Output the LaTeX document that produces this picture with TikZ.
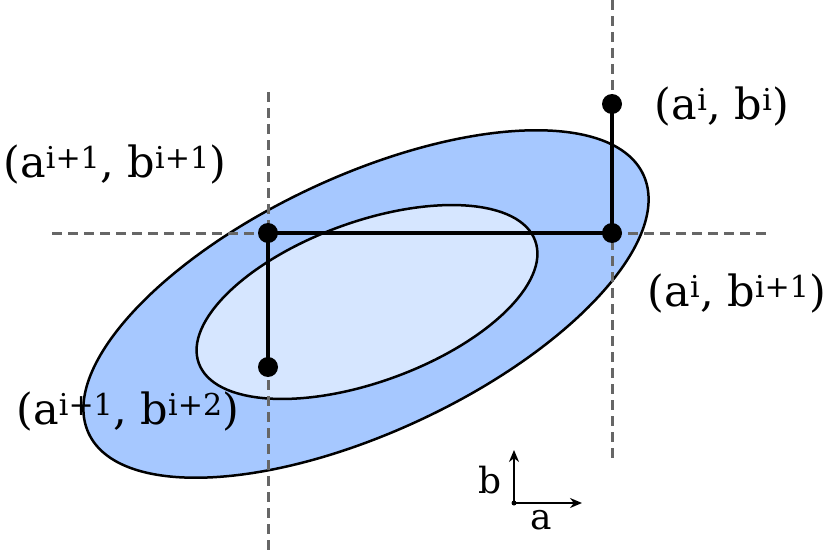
\documentclass[tikz,border=0pt]{standalone}
\usepackage{fontspec}
\setmainfont{DejaVu Serif}
\usetikzlibrary{arrows.meta}
\begin{document}
\begin{tikzpicture}[x=1pt,y=-1pt,
  gridline/.style={draw=black!60,line width=3pt,dash pattern=on 10pt off 6pt},
  pt/.style={circle,fill=black,inner sep=0pt,minimum size=20pt},
  lbl/.style={font=\fontsize{43}{45}\selectfont,inner sep=0pt}]
\useasboundingbox (0,0) rectangle (831,551);
\draw[fill={rgb,255:red,166;green,200;blue,255},line width=2.5pt] (366,304) ellipse[x radius=306,y radius=128,rotate=25];
\draw[fill={rgb,255:red,214;green,230;blue,255},line width=2.5pt] (367,302) ellipse[x radius=179,y radius=80,rotate=20];
\coordinate (v1t) at (268,92); \coordinate (v1b) at (268,551);
\coordinate (v2t) at (612,0); \coordinate (v2b) at (612,460);
\coordinate (hl) at (52,233); \coordinate (hr) at (770,233);
\draw[gridline] (v1t) -- (v1b);
\draw[gridline] (v2t) -- (v2b);
\draw[gridline] (hl) -- (hr);
\node[pt] (p1) at (612,104) {};
\node[pt] (p2) at (612,233) {};
\node[pt] (p3) at (268,233) {};
\node[pt] (p4) at (268,367) {};
\draw[line width=3.5pt] (p1.center) -- (p2.center) -- (p3.center) -- (p4.center);
\node[lbl] (l1) at (722,107) {(a\textsuperscript{i}, b\textsuperscript{i})};
\node[lbl] (l2) at (115,165) {(a\textsuperscript{i+1}, b\textsuperscript{i+1})};
\node[lbl] (l3) at (737,294) {(a\textsuperscript{i}, b\textsuperscript{i+1})};
\node[lbl] (l4) at (128,412) {(a\textsuperscript{i+1}, b\textsuperscript{i+2})};
\node[circle,fill=black,inner sep=0pt,minimum size=5pt] (o) at (514,503) {};
\coordinate (ay) at (514,450); \coordinate (ax) at (582,503);
\draw[line width=2.2pt,-{Stealth[length=12pt,width=10pt]}] (o.center) -- (ay);
\draw[line width=2.2pt,-{Stealth[length=12pt,width=10pt]}] (o.center) -- (ax);
\node[lbl,font=\fontsize{36}{38}\selectfont] (lb) at (490,480) {b};
\node[lbl,font=\fontsize{36}{38}\selectfont] (la) at (541,520) {a};
\end{tikzpicture}
\end{document}
